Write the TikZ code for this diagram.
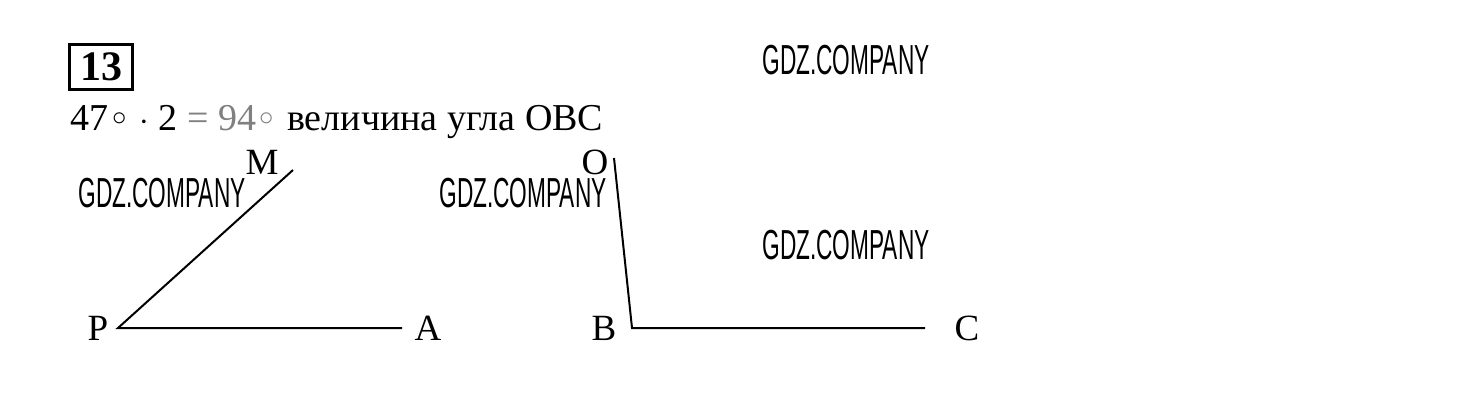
\documentclass[tikz,border=0pt]{standalone}
\usepackage{fontspec}
\setmainfont{Liberation Serif}
\newfontfamily\wmfont[FakeStretch=0.54]{Liberation Sans}
\usetikzlibrary{calc}

\begin{document}
\begin{tikzpicture}[x=0.5pt,y=-0.5pt]
      \useasboundingbox (0,0) rectangle (1460,408);
      \tikzset{
        lbl/.style={font=\fontsize{18.5}{20}\selectfont, inner sep=0pt},
        wm/.style={font=\wmfont\fontsize{21}{24}\selectfont, inner sep=0pt},
        seg/.style={line width=1pt}
      }
      \def\deg{\hspace{1.8pt}\raisebox{0.12em}{${\scriptstyle\circ}$}\hspace{1.8pt}}

      % Numero
      \node[draw, line width=1.5pt, minimum width=31.5pt, minimum height=22.5pt,
            inner sep=0pt, font=\bfseries\fontsize{21}{22}\selectfont] (num) at (101,67) {13};
      \node[anchor=base west, inner sep=0pt, font=\fontsize{19}{22}\selectfont] (txt) at (70,130)
        {47\deg{} $\cdot$ 2 \textcolor{gray}{= 94\deg} величина угла OBC};

      % Angle MPA
      \coordinate (P) at (118,328);
      \coordinate (A) at (402,328);
      \coordinate (M) at (293,170);
      \draw[seg] (M) -- (P) -- (A);

      % Angle OBC
      \coordinate (B) at (632,328);
      \coordinate (C) at (925,328);
      \coordinate (O) at (614,158);
      \draw[seg] (O) -- (B) -- (C);

      % Sommets
      \node[lbl] (lP) at (98,328) {P};
      \node[lbl] (lA) at (428,328) {A};
      \node[lbl] (lM) at (262,162) {M};
      \node[lbl] (lB) at (604,328) {B};
      \node[lbl] (lC) at (967,328) {C};
      \node[lbl] (lO) at (595,162) {O};

      % Filigrane
      \node[wm] (wm1) at (846,60) {GDZ.COMPANY};
      \node[wm] (wm2) at (162,193) {GDZ.COMPANY};
      \node[wm] (wm3) at (523,193) {GDZ.COMPANY};
      \node[wm] (wm4) at (846,245) {GDZ.COMPANY};
    \end{tikzpicture}
\end{document}
